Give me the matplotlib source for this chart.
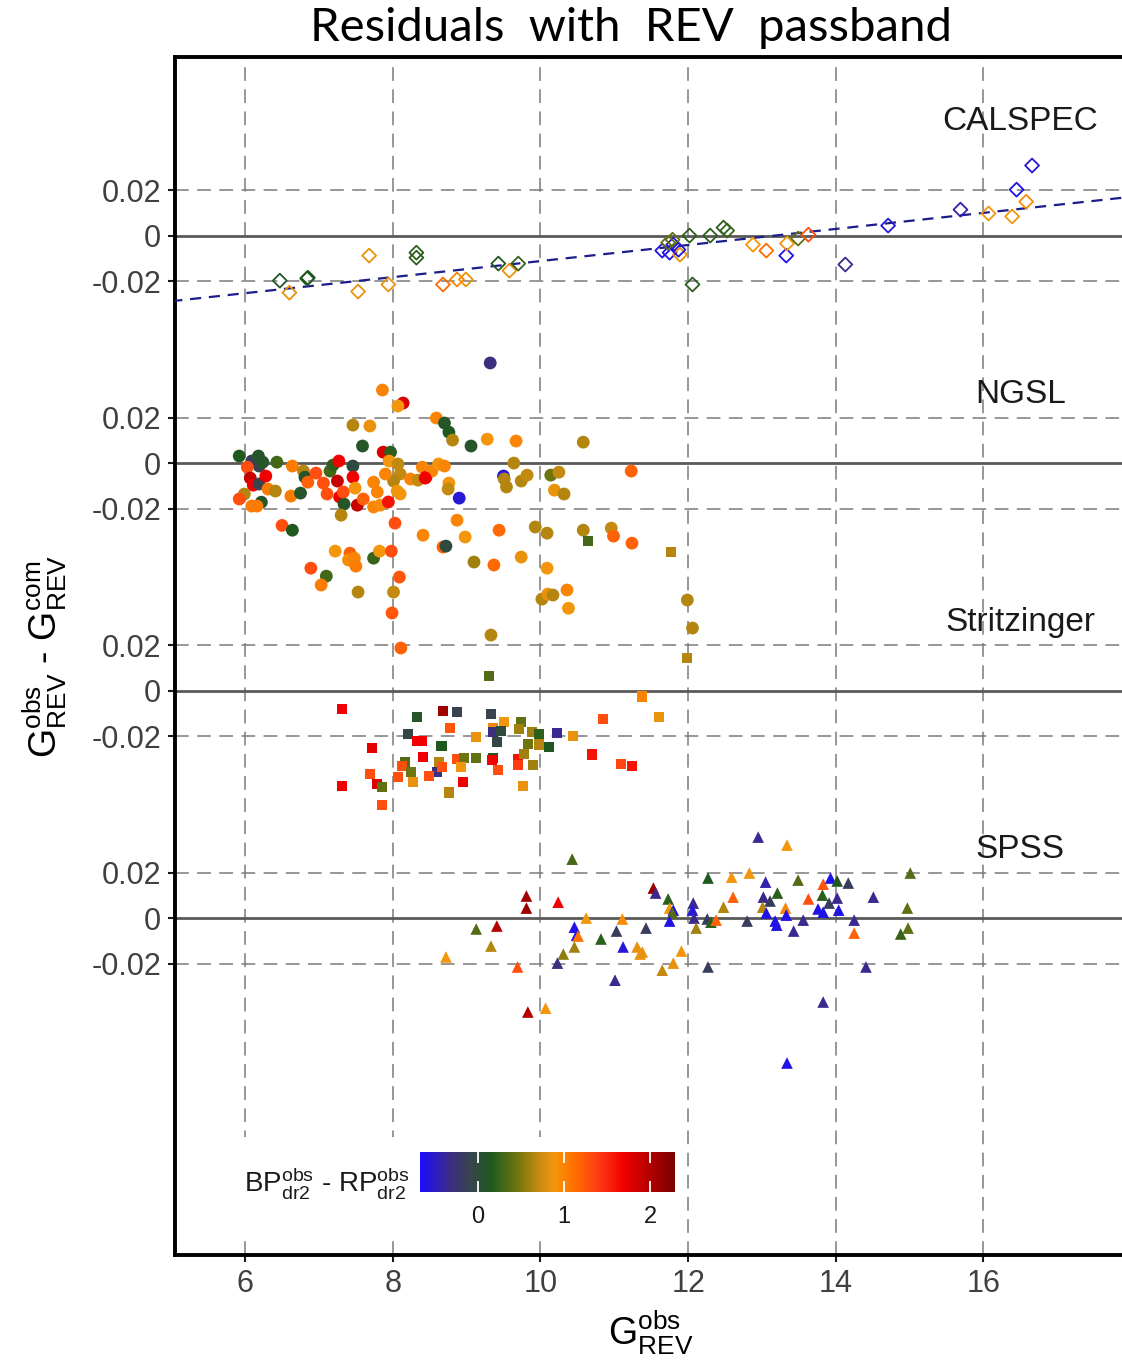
import numpy as np
import matplotlib
matplotlib.use("Agg")
import matplotlib.pyplot as plt
from matplotlib.colors import LinearSegmentedColormap, Normalize
from matplotlib.cm import ScalarMappable
from matplotlib.patches import Rectangle

plt.rcParams['font.family'] = ['Liberation Sans', 'DejaVu Sans']
plt.rcParams['mathtext.fontset'] = 'custom'
plt.rcParams['mathtext.rm'] = 'Liberation Sans'
plt.rcParams['mathtext.it'] = 'Liberation Sans:italic'

# ---- data (G_obs, residual, BP-RP colour) ----
calspec_x = [6.47, 6.60, 6.84, 6.85, 7.68, 7.53, 7.94, 8.32, 8.32, 8.68, 8.87, 8.99, 9.43, 9.58, 9.70,
             11.65, 11.75, 11.80, 11.73, 11.79, 11.89, 11.87, 12.02, 12.06, 12.30, 12.48, 12.53, 12.88,
             13.06, 13.33, 13.34, 13.49, 13.63, 14.13, 14.71, 15.69, 16.07, 16.39, 16.45, 16.58, 16.66]
calspec_res = [-0.0198, -0.0251, -0.0189, -0.0185, -0.0088, -0.0246, -0.0215, -0.0075, -0.0097, -0.0215,
               -0.0193, -0.0193, -0.0123, -0.0154, -0.0123, -0.0066, -0.0075, -0.0040, -0.0031, -0.0018,
               -0.0084, -0.0062, 0.0, -0.0215, 0.0, 0.0035, 0.0022, -0.0040, -0.0066, -0.0088, -0.0035,
               -0.0013, 0.0004, -0.0127, 0.0044, 0.0114, 0.0097, 0.0084, 0.0202, 0.0149, 0.0308]
calspec_col = [0.1, 0.85, 0.15, 0.15, 0.85, 0.85, 0.85, 0.2, 0.2, 1.15, 1.0, 0.85, 0.15, 0.85, 0.25,
               -0.6, -0.6, -0.55, 0.4, 0.4, 0.85, -0.55, 0.2, 0.2, 0.2, 0.2, 0.25, 0.9,
               1.15, -0.6, 0.9, 0.4, 1.3, -0.35, -0.55, -0.45, 0.9, 0.9, -0.6, 0.95, -0.55]

ngsl_x = [5.92, 6.09, 6.18, 6.19, 6.24, 6.43, 6.03, 6.07, 6.11, 6.19, 6.28, 6.31, 6.41, 5.99, 5.92, 6.22,
          6.09, 6.16, 6.64, 6.62, 6.75, 6.79, 6.81, 6.85, 6.96, 7.06, 7.11, 7.15, 7.19, 7.27, 7.25, 7.28,
          7.34, 7.30, 7.33, 7.46, 7.46, 7.49, 7.52, 7.60, 7.46, 7.69, 7.59, 7.86, 8.14, 8.07, 7.87, 7.97,
          7.95, 8.07, 8.10, 8.01, 7.90, 7.74, 7.79, 7.74, 7.83, 7.94, 8.06, 8.10, 8.24, 8.34, 8.40, 8.45,
          8.53, 8.62, 8.70, 8.76, 8.75, 8.90, 8.59, 8.70, 8.76, 8.81, 9.06, 8.03, 8.87, 8.41, 8.98, 8.68,
          8.72, 6.50, 6.64, 7.22, 7.42, 7.40, 7.48, 7.50, 6.89, 7.10, 7.03, 7.53, 7.74, 7.82, 7.98, 8.09,
          8.01, 7.99, 8.11, 9.10, 9.32, 9.28, 9.67, 10.58, 9.64, 9.50, 9.51, 9.54, 9.74, 9.82, 10.14,
          10.25, 10.19, 10.32, 11.23, 8.44, 9.44, 9.93, 10.09, 10.58, 10.96, 10.99, 11.24, 9.37, 9.74,
          10.09, 10.02, 10.10, 10.17, 10.36, 10.38, 9.33, 11.99, 12.06]
ngsl_res = [0.0031, 0.0009, 0.0031, -0.0013, 0.0004, 0.0004, -0.0018, -0.0066, -0.0097, -0.0092, -0.0057,
            -0.0114, -0.0123, -0.0136, -0.0158, -0.0172, -0.0189, -0.0189, -0.0013, -0.0145, -0.0132,
            -0.0035, -0.0062, -0.0084, -0.0044, -0.0088, -0.0136, -0.0035, -0.0009, 0.0009, -0.0079,
            -0.0149, -0.0180, -0.0229, -0.0127, -0.0013, -0.0062, -0.0110, -0.0185, -0.0158, 0.0167,
            0.0163, 0.0075, 0.0321, 0.0264, 0.0251, 0.0048, 0.0048, 0.0009, -0.0004, -0.0048, -0.0079,
            -0.0048, -0.0084, -0.0127, -0.0193, -0.0185, -0.0171, -0.0123, -0.0136, -0.0070, -0.0075,
            -0.0018, -0.0062, -0.0035, -0.0004, -0.0013, -0.0088, -0.0114, -0.0154, 0.0198, 0.0176,
            0.0136, 0.0101, 0.0075, -0.0264, -0.0251, -0.0317, -0.0325, -0.0369, -0.0365, -0.0274,
            -0.0295, -0.0387, -0.0396, -0.0426, -0.0418, -0.0453, -0.0462, -0.0497, -0.0536, -0.0567,
            -0.0418, -0.0387, -0.0387, -0.0501, -0.0567, -0.0659, -0.0813, -0.0435, 0.0440, 0.0105,
            0.0097, 0.0092, 0.0, -0.0057, -0.0070, -0.0105, -0.0079, -0.0053, -0.0053, -0.0040, -0.0119,
            -0.0136, -0.0035, -0.0066, -0.0295, -0.0281, -0.0308, -0.0295, -0.0286, -0.0321, -0.0352,
            -0.0448, -0.0413, -0.0462, -0.0598, -0.0576, -0.0580, -0.0558, -0.0638, -0.0756, -0.0602,
            -0.0725]
ngsl_col = [0.15, -0.15, 0.1, -0.1, 0.1, 0.3, 1.3, 1.9, 1.7, -0.1, 1.7, 1.05, 0.65, 0.65, 1.3, 0.1,
            1.05, 1.05, 1.05, 1.05, 0.1, 0.65, 0.1, 1.2, 1.3, 1.3, 1.3, 0.3, 0.2, 1.7, 1.9, 1.7,
            0.1, 0.65, 1.3, 0.0, 1.7, 0.9, 1.9, 1.2, 0.65, 0.85, 0.1, 1.0, 1.8, 0.9, 1.8, 0.2,
            0.9, 0.7, 0.7, 0.65, 1.0, 1.0, 1.0, 1.0, 0.95, 1.6, 0.9, 0.9, 1.0, 0.7, 1.0, 1.7,
            1.0, 0.9, 1.0, 0.9, 0.7, -0.55, 1.0, 0.1, 0.15, 0.65, 0.1, 1.3, 1.0, 1.0, 0.9, 1.2,
            0.0, 1.3, 0.15, 0.9, 1.2, 0.95, 1.0, 1.05, 1.3, 0.3, 1.05, 0.65, 0.25, 0.9, 1.3, 1.25,
            0.7, 1.25, 1.2, 0.6, -0.3, 0.9, 1.0, 0.65, 0.65, -0.55, 0.65, 0.65, 0.65, 0.7, 0.45,
            0.7, 0.85, 0.65, 1.2, 1.7, 1.15, 0.65, 0.65, 0.65, 0.7, 1.2, 1.2, 1.15, 0.85,
            0.9, 0.65, 0.85, 0.65, 1.0, 0.9, 0.65, 0.65, 0.65]

stritz_x = [9.31, 7.31, 8.33, 8.68, 8.87, 9.33, 9.51, 9.36, 9.36, 9.46, 9.74, 9.71, 9.88, 9.98, 10.23,
            10.44, 8.78, 9.13, 9.41, 8.20, 8.33, 8.40, 8.66, 7.72, 9.83, 9.98, 10.12, 8.41, 8.17, 8.13,
            8.25, 8.07, 8.62, 8.60, 8.67, 8.49, 8.87, 8.97, 8.93, 9.13, 9.36, 9.35, 9.43, 9.70, 9.70,
            9.78, 9.90, 8.95, 8.76, 9.77, 8.28, 7.69, 7.79, 7.86, 7.31, 7.86, 10.70, 10.85, 11.38,
            11.60, 11.09, 11.24, 10.65, 11.77, 11.99]
stritz_res = [0.0062, -0.0079, -0.0114, -0.0088, -0.0092, -0.0105, -0.0136, -0.0163, -0.0180, -0.0176,
              -0.0136, -0.0167, -0.0180, -0.0189, -0.0185, -0.0198, -0.0163, -0.0202, -0.0224, -0.0189,
              -0.0220, -0.0220, -0.0242, -0.0251, -0.0233, -0.0237, -0.0246, -0.0290, -0.0316, -0.0330,
              -0.0356, -0.0382, -0.0312, -0.0360, -0.0338, -0.0374, -0.0299, -0.0295, -0.0334, -0.0295,
              -0.0295, -0.0303, -0.0347, -0.0299, -0.0325, -0.0277, -0.0325, -0.0400, -0.0448, -0.0418,
              -0.0400, -0.0365, -0.0409, -0.0422, -0.0418, -0.0505, -0.0281, -0.0123, -0.0026, -0.0114,
              -0.0321, -0.0330, 0.0659, 0.0611, 0.0145]
stritz_col = [0.35, 1.7, 0.1, 2.1, -0.1, -0.1, 0.9, 1.0, -0.3, 0.0, 0.4, 0.6, 0.6, 0.2, -0.35,
              0.85, 1.25, 0.85, -0.05, -0.05, 1.7, 1.7, 0.15, 1.75, 0.45, 0.65, 0.15, 1.7, 0.35, 1.3,
              0.45, 1.3, 0.65, -0.3, 1.3, 1.3, 1.3, 0.45, 0.9, 0.4, 0.15, 1.7, 1.3, 1.6, 1.4,
              0.6, 0.6, 1.7, 0.65, 0.85, 0.85, 1.3, 1.8, 0.4, 1.7, 1.3, 1.6, 1.3, 1.0,
              0.85, 1.35, 1.6, 0.3, 0.65, 0.65]

spss_x = [10.43, 9.81, 9.81, 10.24, 9.41, 9.13, 9.33, 8.72, 9.69, 9.83, 10.07, 10.62, 10.46, 10.49, 10.51,
          10.46, 10.31, 10.23, 10.82, 11.03, 11.11, 11.12, 11.01, 11.31, 11.35, 11.43, 11.38, 11.53, 11.56,
          11.73, 11.75, 11.80, 11.79, 11.75, 11.91, 11.80, 11.65, 12.07, 12.06, 12.08, 12.11, 12.26, 12.31,
          12.38, 12.27, 12.27, 12.59, 12.83, 12.95, 13.34, 13.05, 13.49, 13.21, 13.02, 13.11, 12.61, 12.48,
          13.01, 13.32, 13.06, 12.80, 13.18, 13.20, 13.33, 13.56, 13.43, 13.63, 13.83, 13.93, 14.02, 14.17,
          13.82, 13.91, 14.02, 13.76, 13.83, 14.04, 14.25, 14.25, 14.51, 15.01, 14.97, 14.98, 14.88, 14.41,
          13.83, 13.34]
spss_res = [0.0259, 0.0097, 0.0044, 0.0070, -0.0035, -0.0048, -0.0123, -0.0171, -0.0215, -0.0413, -0.0396,
            0.0, -0.0040, -0.0075, -0.0079, -0.0127, -0.0158, -0.0198, -0.0092, -0.0057, -0.0004, -0.0127,
            -0.0273, -0.0127, -0.0158, -0.0044, -0.0149, 0.0132, 0.0110, 0.0084, 0.0044, 0.0035, 0.0022,
            -0.0013, -0.0145, -0.0198, -0.0229, 0.0066, 0.0035, 0.0, -0.0044, -0.0004, -0.0018, -0.0009,
            -0.0215, 0.0176, 0.0180, 0.0198, 0.0356, 0.0321, 0.0158, 0.0167, 0.0110, 0.0092, 0.0075, 0.0092,
            0.0048, 0.0048, 0.0044, 0.0022, -0.0013, -0.0013, -0.0031, 0.0013, -0.0009, -0.0057, 0.0084,
            0.0149, 0.0176, 0.0163, 0.0154, 0.0101, 0.0066, 0.0088, 0.0040, 0.0026, 0.0035, -0.0009, -0.0066,
            0.0092, 0.0198, 0.0044, -0.0044, -0.0070, -0.0215, -0.0369, -0.0637]
spss_col = [0.3, 2.1, 2.1, 1.7, 2.0, 0.35, 0.65, 0.9, 1.3, 2.0, 0.9, 0.9, -0.6, -0.6, 1.1,
            0.6, 0.55, -0.3, 0.2, -0.15, 0.95, -0.55, -0.35, 0.85, 0.85, -0.15, 0.85, 2.1, -0.35,
            0.2, 0.9, -0.6, 0.35, -0.6, 0.9, 0.85, 0.7, -0.35, -0.55, -0.35, 0.6, -0.15, 0.2,
            1.2, -0.15, 0.15, 0.9, 0.9, -0.35, 0.9, -0.45, 0.35, 0.2, -0.35, -0.15, 1.2, 0.65,
            0.65, 1.0, -0.6, -0.15, -0.6, -0.6, -0.6, -0.35, -0.35, 1.3, 1.25, -0.6, 0.15, -0.15,
            0.2, -0.15, -0.35, -0.6, -0.6, -0.6, -0.35, 1.2, -0.35, 0.35, 0.4, 0.4, 0.25, -0.35,
            -0.35, -0.6]

# linear fit through the CALSPEC residuals
fit_slope = 0.00353
fit_intercept = -0.0465

panels = [
    ("CALSPEC", 0.3, calspec_x, calspec_res, calspec_col, "D", 0.050),
    ("NGSL", 0.2, ngsl_x, ngsl_res, ngsl_col, "o", 0.030),
    ("Stritzinger", 0.1, stritz_x, stritz_res, stritz_col, "s", 0.030),
    ("SPSS", 0.0, spss_x, spss_res, spss_col, "^", 0.030),
]

cvals = [-0.67, -0.35, -0.1, 0.15, 0.45, 0.7, 0.9, 1.1, 1.4, 1.7, 2.29]
ccols = ['#1a0dff', '#3b2a8c', '#39434f', '#1f5a1f', '#6e7510', '#c48a10', '#f5960c',
         '#ff7300', '#ff3c14', '#f00000', '#7a0000']
vmin, vmax = cvals[0], cvals[-1]
cmap = LinearSegmentedColormap.from_list(
    "bprp", [((v - vmin) / (vmax - vmin), c) for v, c in zip(cvals, ccols)])
norm = Normalize(vmin, vmax)

fig = plt.figure(figsize=(11.22, 13.6), dpi=100)
ax = fig.add_axes([175 / 1122, 105 / 1360, (1131 - 175) / 1122, (1303 - 105) / 1360])
ax.set_xlim(5.05, 18.0)
ax.set_ylim(-0.1481, 0.3785)

grid_kw = dict(color='#7a7a7a', lw=1.1, dashes=(9, 5.5), zorder=1)
for xv in range(6, 18, 2):
    ax.axvline(xv, **grid_kw)

yticks, ylabels = [], []
for name, off, xs, rs, cs, mk, ylab in panels:
    ax.axhline(off, color='#595959', lw=2.0, zorder=1.5)
    ax.axhline(off + 0.02, **grid_kw)
    ax.axhline(off - 0.02, **grid_kw)
    yticks += [off - 0.02, off, off + 0.02]
    ylabels += ['-0.02', '0', '0.02']
    ax.text(16.5, off + ylab, name, fontsize=24, color='#1a1a1a', ha='center', va='center', zorder=6)

# fit line for CALSPEC
xf = np.array([5.0, 18.0])
ax.plot(xf, 0.3 + fit_intercept + fit_slope * xf, color='#1c1c8c', lw=1.6, dashes=(5, 3.5), zorder=3)

for name, off, xs, rs, cs, mk, ylab in panels:
    ys = off + np.array(rs)
    colors = cmap(norm(np.array(cs)))
    if mk == "D":
        ax.scatter(xs, ys, marker='D', s=50, facecolors='none', edgecolors=colors, linewidths=1.3, zorder=4)
    elif mk == "o":
        ax.scatter(xs, ys, marker='o', s=85, c=colors, edgecolors='none', zorder=4)
    elif mk == "s":
        ax.scatter(xs, ys, marker='s', s=52, c=colors, edgecolors='none', zorder=4)
    else:
        ax.scatter(xs, ys, marker='^', s=70, c=colors, edgecolors='none', zorder=4)

ax.set_yticks(yticks)
ax.set_yticklabels(ylabels)
ax.set_xticks(range(6, 18, 2))
ax.tick_params(axis='both', labelsize=22, labelcolor='#404040', length=5, width=1.5, color='#1a1a1a', pad=5)
for side in ['left', 'bottom', 'top']:
    ax.spines[side].set_linewidth(2.8)
    ax.spines[side].set_color('black')
ax.spines['right'].set_visible(False)

# white legend background inside the panel
ax.add_patch(Rectangle((178 / 1122, (1360 - 1233) / 1360), (684 - 178) / 1122, 96 / 1360,
                       transform=fig.transFigure, facecolor='white', edgecolor='none', zorder=2))

cax = fig.add_axes([420 / 1122, (1360 - 1192) / 1360, 255 / 1122, 40 / 1360])
cb = fig.colorbar(ScalarMappable(norm=norm, cmap=cmap), cax=cax, orientation='horizontal')
cb.outline.set_visible(False)
cb.set_ticks([0, 1, 2])
cax.tick_params(direction='in', length=8, width=1.3, color='white', top=True, bottom=True,
                labelsize=17, labelcolor='#1a1a1a', pad=10)
fig.text(410 / 1122, (1360 - 1183) / 1360, r'$\mathrm{BP^{obs}_{dr2}}$ - $\mathrm{RP^{obs}_{dr2}}$',
         fontsize=20, color='#1a1a1a', ha='right', va='center')

fig.text(45 / 1122, (1360 - 656) / 1360, r'$\mathrm{G^{obs}_{REV}}$ - $\mathrm{G^{com}_{REV}}$',
         fontsize=27, rotation=90, ha='center', va='center', color='black')
fig.text(651 / 1122, 27 / 1360, r'$\mathrm{G^{obs}_{REV}}$', fontsize=27, ha='center', va='center',
         color='black')
fig.text(631 / 1122, 1 - 28 / 1360, 'Residuals  with  REV  passband', fontsize=34, ha='center',
         va='center', color='black', family=['Lato', 'DejaVu Sans'])

fig.savefig('out.png', dpi=100)
